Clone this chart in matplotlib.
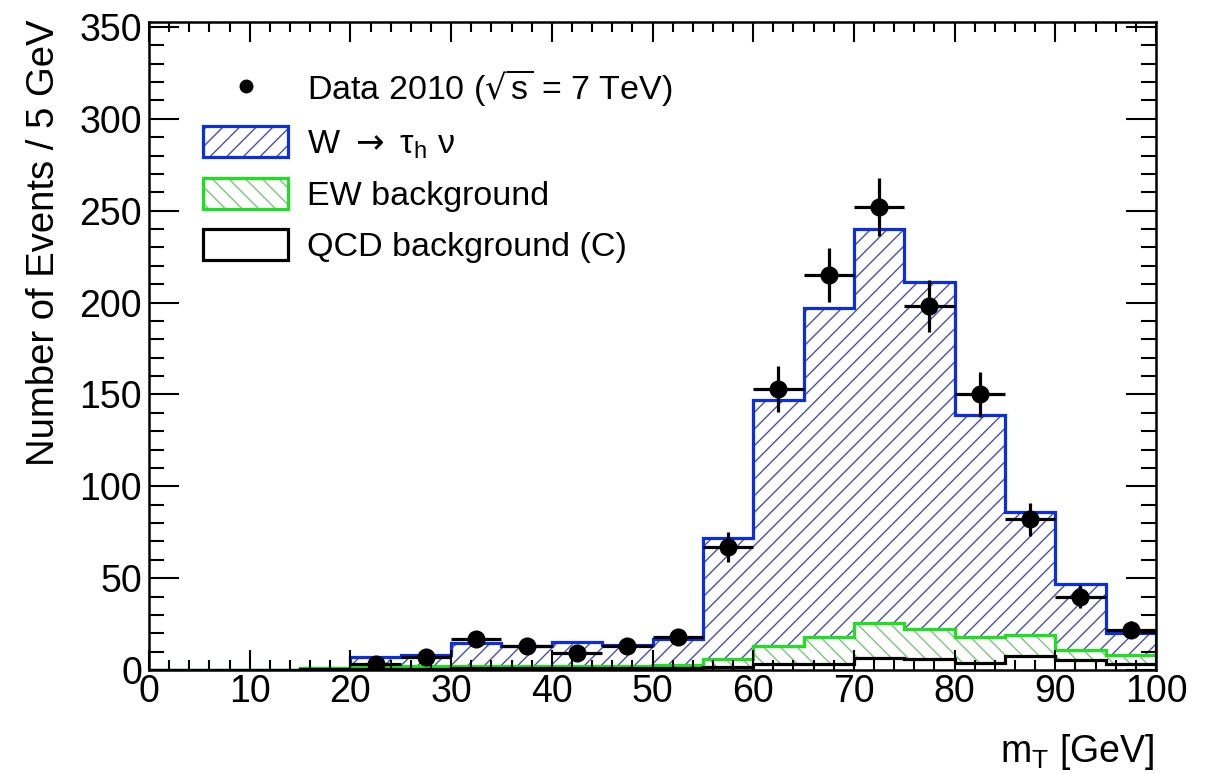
import numpy as np
import matplotlib
matplotlib.use("Agg")
import matplotlib.pyplot as plt
from matplotlib.patches import Patch
from matplotlib.lines import Line2D
from matplotlib.ticker import MultipleLocator

plt.rcParams["font.family"] = ["Liberation Sans", "DejaVu Sans"]
plt.rcParams["mathtext.fontset"] = "dejavusans"
plt.rcParams["hatch.linewidth"] = 1.0

# ── data ─────────────────────────────────────────────────────────────────
bin_edges = np.arange(0, 105, 5)
qcd_bkg = [0, 0, 0, 0.5, 0.5, 0.8, 1, 1, 1, 1, 1, 1.5, 3, 3.5, 6.5, 6, 4, 7.5, 5.5, 3]
ew_bkg = [0, 0, 0, 0.5, 1, 1.2, 1, 1, 1, 1, 1.5, 4.5, 10, 14.5, 19, 16.5, 14, 11.5, 5.5, 5]
w_taunu = [0, 0, 0, 0, 5.5, 6, 12.5, 11, 13, 11.5, 14.5, 66, 134, 179, 214.5, 188.5, 121, 67, 36, 12]

data_mt = [22.5, 27.5, 32.5, 37.5, 42.5, 47.5, 52.5, 57.5,
           62.5, 67.5, 72.5, 77.5, 82.5, 87.5, 92.5, 97.5]
data_counts = [3, 7, 17, 13, 9, 13, 18, 67, 153, 215, 252, 198, 150, 82, 40, 22]

# ── colours ──────────────────────────────────────────────────────────────
blue_line, blue_hatch = "#0a2ee0", "#4a4fa8"
green_line, green_hatch = "#1ee01e", "#7cc47c"

# stacked totals
qcd_top = np.array(qcd_bkg)
ew_top = qcd_top + np.array(ew_bkg)
w_top = ew_top + np.array(w_taunu)

fig = plt.figure(figsize=(12.09, 7.74), dpi=100)
ax = fig.add_axes([149 / 1209, 1 - 670 / 774, 1007 / 1209, 648 / 774])

lw = 2.3
# W -> tau nu (total stack)
ax.stairs(w_top, bin_edges, fill=True, facecolor="white", edgecolor=blue_hatch,
          hatch="//", linewidth=0, zorder=1)
ax.stairs(w_top, bin_edges, color=blue_line, linewidth=lw, zorder=1.1)
# EW background
ax.stairs(ew_top, bin_edges, fill=True, facecolor="white", edgecolor=green_hatch,
          hatch="\\\\", linewidth=0, zorder=1.2)
ax.stairs(ew_top, bin_edges, color=green_line, linewidth=lw, zorder=1.3)
# QCD background
ax.stairs(qcd_top, bin_edges, fill=True, facecolor="white", linewidth=0, zorder=1.4)
ax.stairs(qcd_top, bin_edges, color="black", linewidth=lw, zorder=1.5)

# data
ax.errorbar(data_mt, data_counts, xerr=2.5, yerr=np.sqrt(data_counts),
            fmt="o", color="black", markersize=12, elinewidth=2.3,
            capsize=0, zorder=3)

# ── axes styling ─────────────────────────────────────────────────────────
ax.set_xlim(0, 100)
ax.set_ylim(0, 352.7)
ax.xaxis.set_major_locator(MultipleLocator(10))
ax.xaxis.set_minor_locator(MultipleLocator(2))
ax.yaxis.set_major_locator(MultipleLocator(50))
ax.yaxis.set_minor_locator(MultipleLocator(10))
ax.tick_params(axis="both", which="both", direction="in", top=True, right=True,
               width=1.5, labelsize=27)
ax.tick_params(axis="x", which="major", length=14.5, pad=3)
ax.tick_params(axis="x", which="minor", length=7.5)
ax.tick_params(axis="y", which="major", length=21.5, pad=5)
ax.tick_params(axis="y", which="minor", length=11)
for sp in ax.spines.values():
    sp.set_linewidth(1.8)

fig.text(44 / 1209, 1 - 20 / 774, "Number of Events / 5 GeV", rotation=90,
         ha="center", va="top", fontsize=27.5)
fig.text(1154 / 1209, 1 - 762 / 774, r"m$_\mathregular{T}$ [GeV]",
         ha="right", va="baseline", fontsize=27)

# ── legend ───────────────────────────────────────────────────────────────
h_data = Line2D([], [], marker="o", color="black", linestyle="none", markersize=9)
h_w = (Patch(facecolor="white", edgecolor=blue_hatch, hatch="//", linewidth=0),
       Patch(facecolor="none", edgecolor=blue_line, linewidth=lw))
h_ew = (Patch(facecolor="white", edgecolor=green_hatch, hatch="\\\\", linewidth=0),
        Patch(facecolor="none", edgecolor=green_line, linewidth=lw))
h_qcd = Patch(facecolor="white", edgecolor="black", linewidth=lw)

labels = [r"Data 2010 ($\sqrt{\mathregular{s}}$ = 7 TeV)",
          r"W $\rightarrow$ τ$_\mathregular{h}$ ν",
          "EW background",
          "QCD background (C)"]
ax.legend([h_data, h_w, h_ew, h_qcd], labels, loc="upper left",
          bbox_to_anchor=((203 - 149) / 1007, (670 - 68) / 648),
          frameon=False, fontsize=24.5, borderpad=0, borderaxespad=0,
          handlelength=2.5, handleheight=1.03, handletextpad=0.55,
          labelspacing=0.5)

fig.savefig("out.png", dpi=100)
